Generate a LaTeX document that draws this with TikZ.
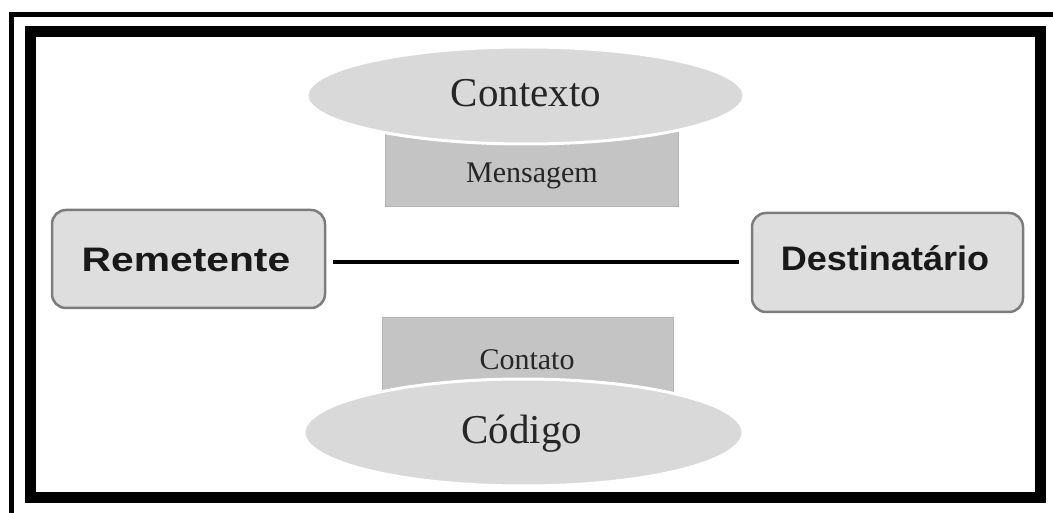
\documentclass[tikz,border=0pt]{standalone}
\usepackage{fontspec}
\setmainfont{Liberation Serif}
\newfontfamily\boxfont{Liberation Sans}
\usetikzlibrary{shapes.geometric}
\definecolor{ellfill}{HTML}{D9D9D9}
\definecolor{rectfill}{HTML}{C4C4C4}
\definecolor{rectline}{HTML}{B4B4B4}
\definecolor{boxfill}{HTML}{DEDEDE}
\definecolor{boxline}{HTML}{7C7C7C}
\tikzset{
  ellnode/.style={ellipse, fill=ellfill, draw=white, line width=3pt, inner sep=0pt},
  rectbox/.style={rectangle, fill=rectfill, draw=rectline, line width=1pt, inner sep=0pt},
  sidebox/.style={rectangle, rounded corners=14pt, fill=boxfill, draw=boxline, line width=2.5pt, inner sep=0pt},
  bigtxt/.style={font=\fontsize{41}{48}\selectfont, text=black!85, inner sep=0pt},
  smalltxt/.style={font=\fontsize{30}{36}\selectfont, text=black!85, inner sep=0pt},
  boldtxt/.style={font=\boxfont\bfseries\fontsize{34}{40}\selectfont, text=black!90, inner sep=0pt}
}
\begin{document}
\begin{tikzpicture}[x=1pt,y=-1pt]
\useasboundingbox (0,0) rectangle (1053,513);
\fill[white] (0,0) rectangle (1053,513);
% frames
\draw[line width=5pt] (11,14.5) rectangle (1070,530);
\draw[line width=11pt] (30,31.5) rectangle (1040,497.5);
% rectangles under the ellipses
\node[rectbox, minimum width=293pt, minimum height=82pt] (msg) at (531.5,166) {};
\node[smalltxt] (msgt) at (532,176) {Mensagem};
\node[rectbox, minimum width=291pt, minimum height=82pt] (cont) at (527.5,359) {};
\node[smalltxt] (contt) at (527,360) {Contato};
% ellipses
\node[ellnode, minimum width=437pt, minimum height=97pt] (ctx) at (525.5,95.5) {};
\node[bigtxt] (ctxt) at (526,93) {Contexto};
\node[ellnode, minimum width=439pt, minimum height=107pt] (cod) at (523.5,432.5) {};
\node[bigtxt] (codt) at (522,434) {Código};
% side boxes
\node[sidebox, minimum width=273pt, minimum height=98pt] (rem) at (188.5,259) {};
\node[boldtxt] (remt) at (186,260) {\scalebox{1.2}[1]{Remetente}};
\node[sidebox, minimum width=271pt, minimum height=99pt] (dest) at (887.5,262.5) {};
\node[boldtxt] (destt) at (885,258) {\scalebox{1.06}[1]{Destinatário}};
% connector
\draw[line width=4.5pt, shorten <=7pt, shorten >=12pt] (rem.east |- 0,262) -- (dest.west |- 0,262);
\end{tikzpicture}
\end{document}
